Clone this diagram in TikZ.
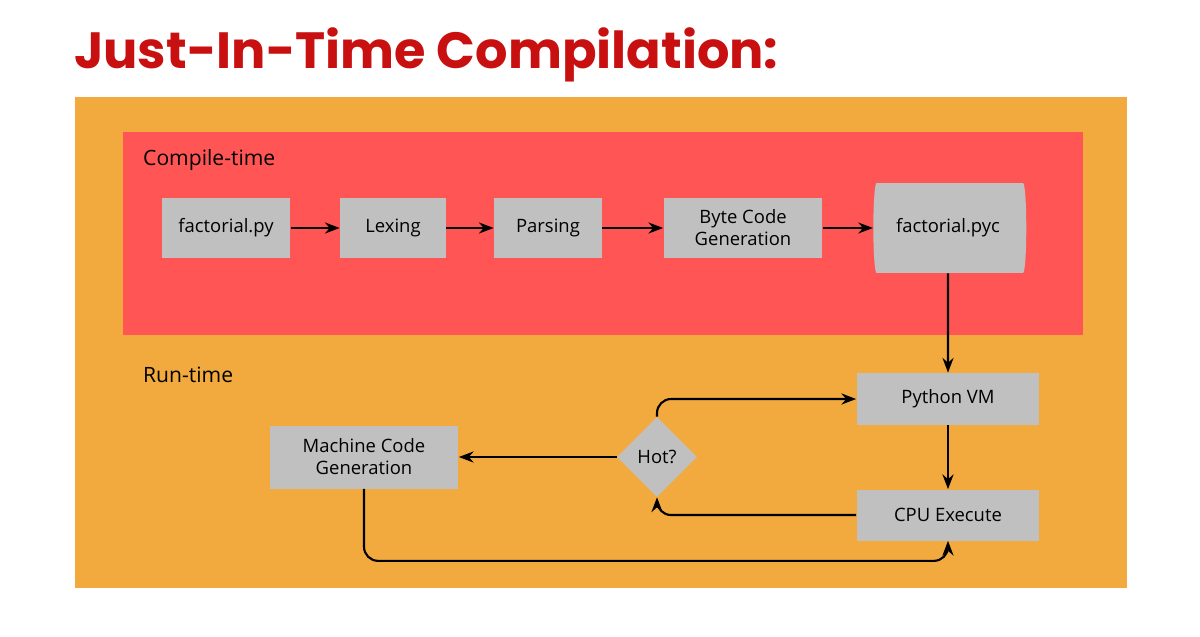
\documentclass[tikz,border=0pt]{standalone}
\usepackage{fontspec}
\setmainfont{Open Sans}
\newfontfamily\titlefont{Poppins}
\usetikzlibrary{positioning, arrows.meta, shapes.geometric, calc}
\definecolor{titlered}{RGB}{200,16,16}
\definecolor{bgorange}{RGB}{242,170,62}
\definecolor{ctred}{RGB}{255,85,85}
\definecolor{boxgray}{RGB}{192,192,192}
\begin{document}
\begin{tikzpicture}[x=0.02cm, y=-0.02cm]
		\tikzset{
			>=Stealth,
			box/.style={fill=boxgray, align=center, minimum height=1.2cm, inner sep=2pt},
			flow/.style={->, line width=1.2pt, rounded corners=8pt},
			every node/.style={font=\fontsize{10.5}{12.5}\selectfont}
		}
		\useasboundingbox (0,0) rectangle (1200,636);
		
		% Backgrounds
		\fill[bgorange] (75,97) rectangle (1127,588);
		\fill[ctred] (123,132) rectangle (1083,335);
		
		% Title and section labels
		\node[anchor=west, text=titlered, font=\titlefont\bfseries\fontsize{29}{34}\selectfont] (title) at (68,55) {Just-In-Time Compilation:};
		\node[anchor=west, font=\fontsize{12}{14}\selectfont] (ct) at (137,160) {Compile-time};
		\node[anchor=west, font=\fontsize{12}{14}\selectfont] (rt) at (137,375) {Run-time};
		
		% Compile-time pipeline
		\node[box, minimum width=2.58cm] (src) at (226,228) {factorial.py};
		\node[box, minimum width=2.12cm] (lex) at (393,228) {Lexing};
		\node[box, minimum width=2.16cm] (parse) at (548,228) {Parsing};
		\node[box, minimum width=3.18cm] (bcg) at (743,228) {Byte Code\\Generation};
		\node[cylinder, fill=boxgray, minimum width=1.8cm, minimum height=3.06cm, shape aspect=0.35, inner sep=0pt] (pyc) at (948,228) {factorial.pyc};
		
		% Run-time loop
		\node[box, minimum width=3.66cm, minimum height=1.04cm] (vm) at (948,399) {Python VM};
		\node[box, minimum width=3.66cm, minimum height=1.02cm] (cpu) at (948,515) {CPU Execute};
		\node[diamond, fill=boxgray, minimum size=1.6cm, inner sep=0pt] (hot) at (657,457) {Hot?};
		\node[box, minimum width=3.78cm, minimum height=1.26cm] (mcg) at (364,457) {Machine Code\\Generation};
		
		% Connectors
		\draw[flow] (src) -- (lex);
		\draw[flow] (lex) -- (parse);
		\draw[flow] (parse) -- (bcg);
		\draw[flow] (bcg) -- (pyc);
		\draw[flow] (pyc) -- (vm);
		\draw[flow] (vm) -- (cpu);
		\draw[flow] (cpu.west) -| (hot.south);
		\draw[flow] (hot.north) |- (vm.west);
		\draw[flow] (hot) -- (mcg);
		\draw[flow] (mcg.south) -- ++(0,72) -| (cpu.south);
		
	\end{tikzpicture}
\end{document}
